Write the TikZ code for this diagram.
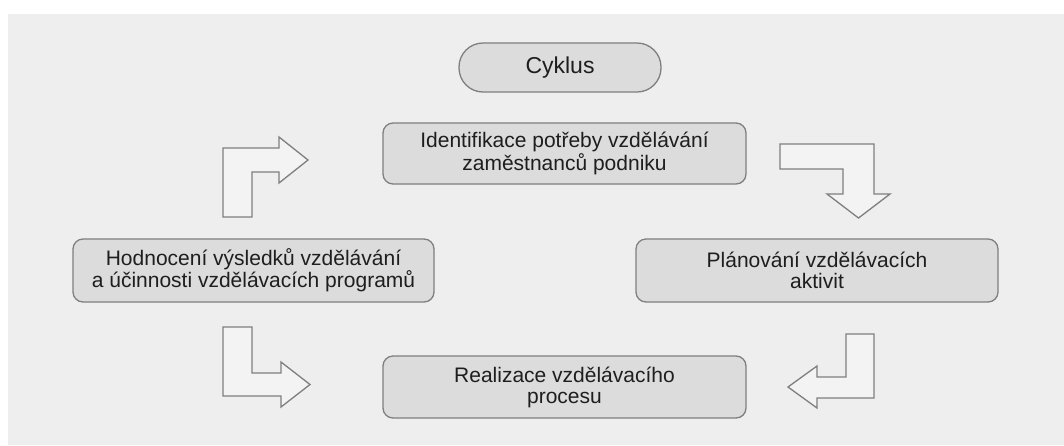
\documentclass[tikz,border=0pt]{standalone}
\usepackage{fontspec}
\setmainfont{Liberation Sans}
\definecolor{bgc}{HTML}{EEEEEE}
\definecolor{boxc}{HTML}{DCDCDC}
\definecolor{linec}{HTML}{7F7F7F}
\definecolor{txtc}{HTML}{1E1E1E}
\tikzset{
  stepbox/.style={draw=linec, line width=1.3pt, fill=boxc, rounded corners=10pt,
    minimum width=362pt, minimum height=62pt, inner sep=0pt, align=center,
    text=txtc, font=\fontsize{21}{21}\selectfont},
  titlebox/.style={draw=linec, line width=1.3pt, fill=boxc, rounded corners=24pt,
    minimum width=202pt, minimum height=49pt, inner sep=0pt, align=center,
    text=txtc, font=\fontsize{23}{23}\selectfont},
  blockarrow/.style={draw=linec, line width=1.3pt, fill=bgc!70!white, line join=miter}
}
\begin{document}
\begin{tikzpicture}[x=1pt, y=-1pt]
\useasboundingbox (0,0) rectangle (1064,445);
\fill[white] (0,0) rectangle (1064,445);
\fill[bgc] (8,14) rectangle (1064,445);

\node[titlebox] (cyk) at (560,67.5) {Cyklus};
\node[stepbox, minimum width=363pt, minimum height=61pt] (ident) at (564.5,153.5) {Identifikace potřeby vzdělávání\\zaměstnanců podniku};
\node[stepbox, minimum width=361pt, minimum height=63pt] (hodn) at (253.5,270.5) {Hodnocení výsledků vzdělávání\\a účinnosti vzdělávacích programů};
\node[stepbox, minimum width=362pt, minimum height=63pt] (plan) at (817,270.5) {Plánování vzdělávacích\\aktivit};
\node[stepbox, minimum width=363pt, minimum height=62pt] (real) at (564.5,387) {Realizace vzdělávacího\\procesu};

% bent block arrows
\draw[blockarrow] (223,217) -- (223,148) -- (279,148) -- (279,137) -- (308,160)
  -- (279,183) -- (279,172) -- (252,172) -- (252,217) -- cycle;
\draw[blockarrow] (780,144) -- (874,144) -- (874,194) -- (890,194) -- (858.5,218)
  -- (827,194) -- (843,194) -- (843,169) -- (780,169) -- cycle;
\draw[blockarrow] (223,327) -- (252,327) -- (252,373) -- (281,373) -- (281,362)
  -- (310,384.5) -- (281,407) -- (281,396) -- (223,396) -- cycle;
\draw[blockarrow] (846,334) -- (874,334) -- (874,398) -- (817,398) -- (817,408)
  -- (788,387) -- (817,366) -- (817,377) -- (846,377) -- cycle;
\end{tikzpicture}
\end{document}
